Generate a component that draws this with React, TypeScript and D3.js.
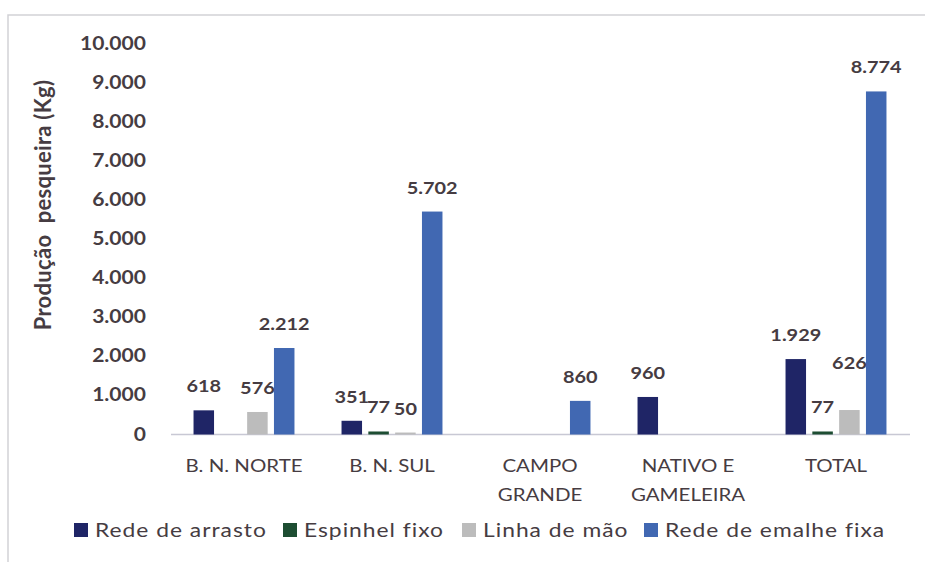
import React from "react";
import * as d3 from "d3";

const categories = ["B. N. NORTE", "B. N. SUL", "CAMPO GRANDE", "NATIVO E GAMELEIRA", "TOTAL"];
const categoryLines = [["B. N. NORTE"], ["B. N. SUL"], ["CAMPO", "GRANDE"], ["NATIVO E", "GAMELEIRA"], ["TOTAL"]];
const seriesNames = ["Rede de arrasto", "Espinhel fixo", "Linha de mão", "Rede de emalhe fixa"];
const redeArrasto = [618, 351, 0, 960, 1929];
const espinhelFixo = [0, 77, 0, 0, 77];
const linhaMao = [576, 50, 0, 0, 626];
const redeEmalhe = [2212, 5702, 860, 0, 8774];
const yTicks = [0, 1000, 2000, 3000, 4000, 5000, 6000, 7000, 8000, 9000, 10000];
const yTitle = "Produção  pesqueira (Kg)";

const seriesValues = [redeArrasto, espinhelFixo, linhaMao, redeEmalhe];
const colors = ["#1f2566", "#1d4d32", "#bcbcbc", "#4168b2"];
// label nudges (Excel overlap avoidance)
const labelNudge: Record<string, number> = { "4|2": -23 };

const W = 925, H = 562;
const SX = 1.17;
const FONT = "Lato, 'Open Sans', sans-serif";
const TXT = "#463c42";

const loc = d3.formatLocale({ decimal: ",", thousands: ".", grouping: [3], currency: ["R$", ""] });
const fmt = loc.format(",d");

export default function App() {
  const x0 = d3.scaleBand<string>().domain(categories).range([170, 910]).padding(0);
  const bw = x0.bandwidth();
  const x1 = d3.scaleBand<string>().domain(seriesNames).range([bw * 0.159, bw * 0.841]).paddingInner(0.235).paddingOuter(0);
  const y = d3.scaleLinear().domain([0, 10000]).range([434.5, 43.5]);

  const T = (x: number, yy: number, s: string, opts: any = {}) => (
    <text
      transform={`translate(${x},${yy}) scale(${SX},1)`}
      textAnchor={opts.anchor || "middle"}
      fontSize={opts.size || 16}
      fontWeight={opts.weight || "bold"}
      fontFamily={FONT}
      fill={TXT}
      letterSpacing={opts.ls || 0}
    >
      {s}
    </text>
  );

  const legendX = [74, 283, 462, 644];

  return (
    <svg width={W} height={H} style={{ position: "absolute", left: 0, top: 0, background: "#fff" }}>
      <rect x={0} y={0} width={W} height={H} fill="#fff" />
      <rect x={8} y={15} width={1000} height={1000} fill="#fff" stroke="#d2d2d6" strokeWidth={1.5} />
      {/* y ticks */}
      {yTicks.map((t) => (
        <g key={t}>{T(146, y(t) + 6, fmt(t), { anchor: "end", size: 18 })}</g>
      ))}
      {/* y title */}
      <text
        transform={`translate(51,${205}) rotate(-90)`}
        textAnchor="middle"
        fontSize={22}
        fontWeight="bold"
        fontFamily={FONT}
        fill={TXT}
        letterSpacing={0.3}
        style={{ whiteSpace: "pre" }}
      >
        {yTitle}
      </text>
      {/* baseline */}
      <line x1={171} x2={910} y1={y(0)} y2={y(0)} stroke="#c8c8d4" strokeWidth={1.5} />
      {/* bars */}
      {categories.map((c, ci) => (
        <g key={c} transform={`translate(${x0(c)},0)`}>
          {seriesNames.map((s, si) => {
            const v = seriesValues[si][ci];
            if (!v) return null;
            const bx = x1(s)!;
            return (
              <rect key={s} x={bx} y={y(v)} width={x1.bandwidth()} height={y(0) - y(v)} fill={colors[si]} />
            );
          })}
        </g>
      ))}
      {/* value labels */}
      {categories.map((c, ci) =>
        seriesNames.map((s, si) => {
          const v = seriesValues[si][ci];
          if (!v) return null;
          const cx = x0(c)! + x1(s)! + x1.bandwidth() / 2;
          const dy = labelNudge[`${ci}|${si}`] || 0;
          return <g key={c + s}>{T(cx, y(v) - 18 + dy, fmt(v), { size: 17 })}</g>;
        })
      )}
      {/* category labels */}
      {categories.map((c, ci) => (
        <g key={c}>
          {categoryLines[ci].map((ln, li) => (
            <g key={li}>{T(x0(c)! + bw / 2, 472 + li * 29, ln, { size: 17.5, weight: "normal" })}</g>
          ))}
        </g>
      ))}
      {/* legend */}
      {seriesNames.map((s, si) => (
        <g key={s}>
          <rect x={legendX[si]} y={523} width={14} height={14} fill={colors[si]} />
          {T(legendX[si] + 21, 537, s, { anchor: "start", size: 19.5, weight: "normal", ls: 0.85 })}
        </g>
      ))}
    </svg>
  );
}
